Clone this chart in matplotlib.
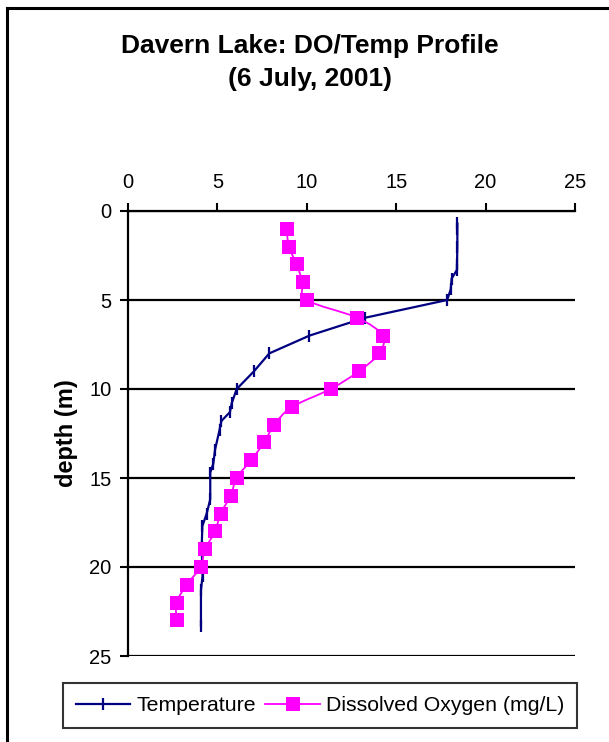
import matplotlib
matplotlib.use("Agg")
import matplotlib.pyplot as plt
import numpy as np
from matplotlib.lines import Line2D
from matplotlib.path import Path
from matplotlib.patches import PathPatch

plt.rcParams['font.family'] = ['Liberation Sans', 'DejaVu Sans']

# Temperature profile (deg C) vs depth (m)
temp_depth = [0.7, 1, 2, 3, 3.3, 3.8, 4.4, 5, 6, 7, 8, 9, 10, 10.8, 11.3, 11.8,
              12.3, 13.4, 14.2, 14.7, 16.2, 17, 17.7, 18.9, 20.5, 21.3, 23.3]
temp_vals = [18.42, 18.42, 18.42, 18.4, 18.4, 18.1, 18.05, 17.85, 13.25, 10.15,
             7.9, 7.05, 6.08, 5.8, 5.7, 5.22, 5.12, 4.87, 4.77, 4.6, 4.6, 4.4,
             4.16, 4.12, 4.17, 4.08, 4.08]

# Dissolved oxygen (mg/L) vs depth (m)
do_depth = list(range(1, 24))
do_vals = [8.87, 9.0, 9.43, 9.77, 9.99, 12.83, 14.24, 14.04, 12.92, 11.33,
           9.19, 8.18, 7.62, 6.88, 6.08, 5.74, 5.18, 4.87, 4.31, 4.06, 3.28,
           2.72, 2.72]

x_ticks = [0, 5, 10, 15, 20, 25]
y_ticks = [0, 5, 10, 15, 20, 25]

TEMP_C = '#000080'
DO_C = '#FF00FF'


def smooth_path(xs, ys):
    """Excel-style smoothed line: Catmull-Rom segments as cubic Beziers."""
    p = np.column_stack([xs, ys]).astype(float)
    n = len(p)
    verts = [p[0]]
    codes = [Path.MOVETO]
    for i in range(n - 1):
        p0 = p[i - 1] if i > 0 else p[i]
        p1, p2 = p[i], p[i + 1]
        p3 = p[i + 2] if i + 2 < n else p[i + 1]
        c1 = p1 + (p2 - p0) / 6.0
        c2 = p2 - (p3 - p1) / 6.0
        verts += [c1, c2, p2]
        codes += [Path.CURVE4] * 3
    return Path(verts, codes)


W, H = 609, 742
fig = plt.figure(figsize=(W / 100, H / 100), dpi=100)
ax = fig.add_axes([128 / W, 1 - 656 / H, (575 - 128) / W, (656 - 211) / H])

ax.plot(temp_vals, temp_depth, color=TEMP_C, lw=1.6, marker='|',
        markersize=8, markeredgewidth=1.6, zorder=3)
ax.add_patch(PathPatch(smooth_path(do_vals, do_depth), facecolor='none',
                       edgecolor=DO_C, lw=1.3, zorder=4))
ax.plot(do_vals, do_depth, ls='none', color=DO_C, marker='s',
        markersize=9.5, markeredgewidth=0, zorder=4)

ax.set_xlim(0, 25)
ax.set_ylim(25, 0)
ax.set_xticks(x_ticks)
ax.set_yticks(y_ticks)
ax.xaxis.tick_top()
ax.tick_params(axis='both', direction='out', length=6, width=1.5, labelsize=14.5,
               colors='black', pad=6)
ax.tick_params(axis='x', pad=8)
for s in ['right', 'bottom']:
    ax.spines[s].set_visible(False)
for s in ['top', 'left']:
    ax.spines[s].set_linewidth(1.6)
ax.yaxis.grid(True, color='black', lw=1.6)
ax.set_axisbelow(True)
ax.set_ylabel('depth (m)', fontsize=17, fontweight='bold', labelpad=8)

fig.text(310 / W, 1 - 46 / H, 'Davern Lake: DO/Temp Profile', ha='center', va='center',
         fontsize=19, fontweight='bold')
fig.text(310 / W, 1 - 79 / H, '(6 July, 2001)', ha='center', va='center',
         fontsize=19, fontweight='bold')

# chart area border (left and top visible)
fig.add_artist(Line2D([7 / W, 7 / W], [0, 1 - 8 / H], color='black', lw=2.2,
                      transform=fig.transFigure))
fig.add_artist(Line2D([7 / W, 1], [1 - 8 / H, 1 - 8 / H], color='black', lw=2.2,
                      transform=fig.transFigure))

handles = [
    Line2D([], [], color=TEMP_C, lw=1.6, marker='|', markersize=8,
           markeredgewidth=1.6),
    Line2D([], [], color=DO_C, lw=1.3, marker='s', markersize=9.5,
           markeredgewidth=0),
]
labels = ['Temperature', 'Dissolved Oxygen (mg/L)']
leg = fig.legend(handles, labels, loc='center', bbox_to_anchor=(320 / W, 1 - 705.5 / H),
                 ncol=2, fontsize=15.3, frameon=True, fancybox=False,
                 edgecolor='black', handlelength=2.55, handletextpad=0.3,
                 columnspacing=0.45, borderpad=0.6)
leg.get_frame().set_linewidth(1.5)

fig.savefig('out.png', dpi=100)
